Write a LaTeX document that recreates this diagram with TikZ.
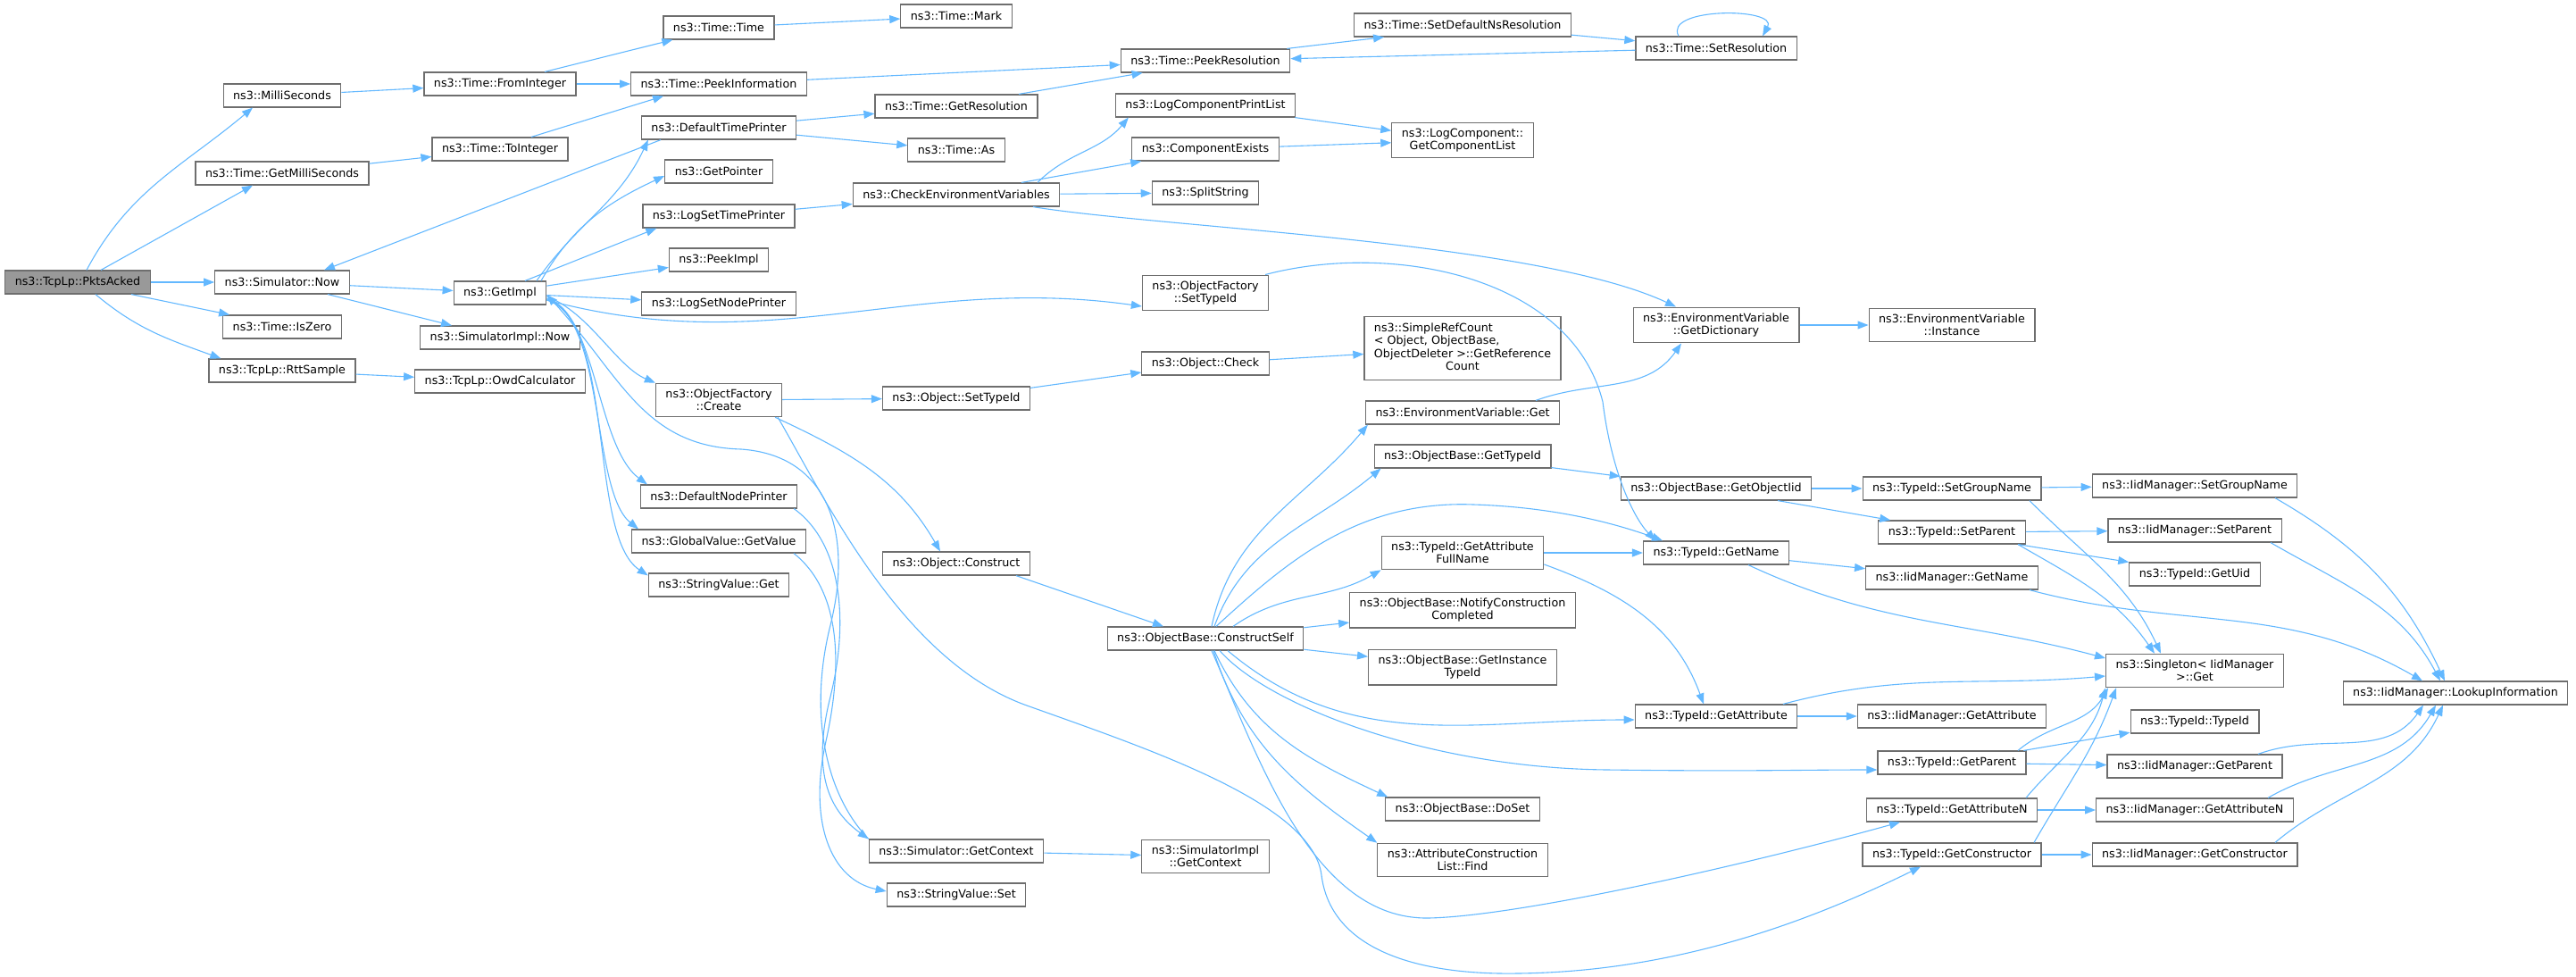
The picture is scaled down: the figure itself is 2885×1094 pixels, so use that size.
\documentclass[tikz,border=0pt]{standalone}
\usepackage{fontspec}
\setmainfont{DejaVu Sans}
\usepackage{tikz}
\usetikzlibrary{arrows.meta,calc}
\definecolor{myblue}{RGB}{99,184,255}
\definecolor{mygray}{RGB}{110,110,110}
\definecolor{myfill}{RGB}{153,153,153}
\tikzstyle{fn}=[draw=mygray,fill=white,line width=1.2pt,inner xsep=11pt,inner ysep=6.5pt,minimum height=26pt,align=center,font=\fontsize{12.7}{14.5}\selectfont]
\tikzstyle{root}=[fn,fill=myfill]
\tikzstyle{call}=[draw=myblue,line width=1.1pt,-{Triangle[length=12pt,width=9pt]}]

\begin{document}
\begin{tikzpicture}[x=1pt,y=1pt]
\useasboundingbox (0,0) rectangle (2885,-1094);
\node[root] (pa) at (87,-316) {ns3::TcpLp::PktsAcked};
\node[fn] (ms) at (316,-107) {ns3::MilliSeconds};
\node[fn] (gms) at (316,-194) {ns3::Time::GetMilliSeconds};
\node[fn] (now) at (316,-316) {ns3::Simulator::Now};
\node[fn] (iz) at (316,-366) {ns3::Time::IsZero};
\node[fn] (rtt) at (316,-415) {ns3::TcpLp::RttSample};
\node[fn] (fi) at (560,-94) {ns3::Time::FromInteger};
\node[fn] (ti) at (560,-167) {ns3::Time::ToInteger};
\node[fn] (gi) at (560,-328) {ns3::GetImpl};
\node[fn] (sin) at (560,-378) {ns3::SimulatorImpl::Now};
\node[fn] (owd) at (560,-427) {ns3::TcpLp::OwdCalculator};
\node[fn] (tt) at (805,-31) {ns3::Time::Time};
\node[fn] (pi) at (805,-94) {ns3::Time::PeekInformation};
\node[fn] (dtp) at (805,-143) {ns3::DefaultTimePrinter};
\node[fn] (gp) at (805,-192) {ns3::GetPointer};
\node[fn] (lstp) at (805,-242) {ns3::LogSetTimePrinter};
\node[fn] (pim) at (805,-291) {ns3::PeekImpl};
\node[fn] (lsnp) at (805,-340) {ns3::LogSetNodePrinter};
\node[fn] (ofc) at (805,-448) {ns3::ObjectFactory\\::Create};
\node[fn] (dnp) at (805,-556) {ns3::DefaultNodePrinter};
\node[fn] (gvv) at (805,-606) {ns3::GlobalValue::GetValue};
\node[fn] (svg) at (805,-655) {ns3::StringValue::Get};
\node[fn] (tm) at (1071,-18) {ns3::Time::Mark};
\node[fn] (gr) at (1071,-119) {ns3::Time::GetResolution};
\node[fn] (tas) at (1071,-168) {ns3::Time::As};
\node[fn] (cev) at (1071,-218) {ns3::CheckEnvironmentVariables};
\node[fn] (ost) at (1071,-446) {ns3::Object::SetTypeId};
\node[fn] (oc) at (1071,-631) {ns3::Object::Construct};
\node[fn] (sgc) at (1071,-953) {ns3::Simulator::GetContext};
\node[fn] (svs) at (1071,-1002) {ns3::StringValue::Set};
\node[fn] (pr) at (1350,-68) {ns3::Time::PeekResolution};
\node[fn] (lcpl) at (1350,-118) {ns3::LogComponentPrintList};
\node[fn] (ce) at (1350,-167) {ns3::ComponentExists};
\node[fn] (ss) at (1350,-216) {ns3::SplitString};
\node[fn] (ofst) at (1350,-328) {ns3::ObjectFactory\\::SetTypeId};
\node[fn] (ock) at (1350,-407) {ns3::Object::Check};
\node[fn] (cs) at (1350,-715) {ns3::ObjectBase::ConstructSelf};
\node[fn] (sigc) at (1350,-959) {ns3::SimulatorImpl\\::GetContext};
\node[fn] (sdr) at (1638,-28) {ns3::Time::SetDefaultNsResolution};
\node[fn] (gcl) at (1638,-157) {ns3::LogComponent::\\GetComponentList};
\node[fn] (src) at (1638,-390) {\begin{tabular}{@{}l@{}}ns3::SimpleRefCount\\< Object, ObjectBase,\\ObjectDeleter >::GetReference\\\multicolumn{1}{@{}c@{}}{Count}\end{tabular}};
\node[fn] (evg) at (1638,-462) {ns3::EnvironmentVariable::Get};
\node[fn] (obgt) at (1638,-511) {ns3::ObjectBase::GetTypeId};
\node[fn] (gafn) at (1638,-619) {ns3::TypeId::GetAttribute\\FullName};
\node[fn] (ncc) at (1638,-683) {ns3::ObjectBase::NotifyConstruction\\Completed};
\node[fn] (git) at (1638,-747) {ns3::ObjectBase::GetInstance\\TypeId};
\node[fn] (ds) at (1638,-906) {ns3::ObjectBase::DoSet};
\node[fn] (acl) at (1638,-963) {ns3::AttributeConstruction\\List::Find};
\node[fn] (sr) at (1922,-54) {ns3::Time::SetResolution};
\node[fn] (gd) at (1922,-364) {ns3::EnvironmentVariable\\::GetDictionary};
\node[fn] (goi) at (1922,-547) {ns3::ObjectBase::GetObjectIid};
\node[fn] (gn) at (1922,-619) {ns3::TypeId::GetName};
\node[fn] (ga) at (1922,-802) {ns3::TypeId::GetAttribute};
\node[fn] (ei) at (2186,-364) {ns3::EnvironmentVariable\\::Instance};
\node[fn] (sgn) at (2186,-547) {ns3::TypeId::SetGroupName};
\node[fn] (sp) at (2186,-596) {ns3::TypeId::SetParent};
\node[fn] (ign) at (2186,-647) {ns3::IidManager::GetName};
\node[fn] (iga) at (2186,-802) {ns3::IidManager::GetAttribute};
\node[fn] (gpa) at (2186,-854) {ns3::TypeId::GetParent};
\node[fn] (gan) at (2186,-907) {ns3::TypeId::GetAttributeN};
\node[fn] (gc) at (2186,-957) {ns3::TypeId::GetConstructor};
\node[fn] (isgn) at (2458,-544) {ns3::IidManager::SetGroupName};
\node[fn] (isp) at (2458,-594) {ns3::IidManager::SetParent};
\node[fn] (gu) at (2458,-643) {ns3::TypeId::GetUid};
\node[fn] (sg) at (2458,-751) {ns3::Singleton< IidManager\\>::Get};
\node[fn] (tid) at (2458,-808) {ns3::TypeId::TypeId};
\node[fn] (igp) at (2458,-858) {ns3::IidManager::GetParent};
\node[fn] (igan) at (2458,-907) {ns3::IidManager::GetAttributeN};
\node[fn] (igc) at (2458,-957) {ns3::IidManager::GetConstructor};
\node[fn] (li) at (2750,-776) {ns3::IidManager::LookupInformation};

\draw[call] ([xshift=10pt]pa.north) to[out=62,in=-140] ([xshift=-33pt]ms.south);
\draw[call] ([xshift=26pt]pa.north) -- ([xshift=-33pt]gms.south);
\draw[call] (pa) -- (now);
\draw[call] ([xshift=60pt]pa.south) -- ([xshift=8pt]iz.north west);
\draw[call] ([xshift=20pt]pa.south) to[out=-40,in=160] ([xshift=14pt]rtt.north west);
\draw[call] (ms) -- (fi);
\draw[call] (gms) -- (ti);
\draw[call] ([xshift=50pt]fi.north) -- ([xshift=11pt]tt.south west);
\draw[call] (fi) -- (pi);
\draw[call] ([xshift=35pt]ti.north) -- ([xshift=37pt]pi.south west);
\draw[call] (now) -- (gi);
\draw[call] ([xshift=51pt]now.south) -- ([xshift=-54pt]sin.north);
\draw[call] ([xshift=-65pt]dtp.south) -- ([xshift=47pt]now.north);
\draw[call] (rtt) -- (owd);
\draw[call] ([xshift=41pt]gi.north) to[out=55,in=-115] ([xshift=8pt]dtp.south west);
\draw[call] ([xshift=46pt]gi.north) to[out=60,in=-155] ([yshift=-5pt]gp.west);
\draw[call] ([xshift=28pt]gi.north) -- ([xshift=16pt]lstp.south west);
\draw[call] (gi) -- (pim);
\draw[call] (gi) -- (lsnp);
\draw[call] ([yshift=-8pt]gi.east) to[out=-15,in=172] ([yshift=-15pt]ofst.west);
\draw[call] ([yshift=-4pt]gi.east) .. controls (660,-350) and (690,-410) .. (ofc.north west);
\draw[call] ([yshift=-6pt]gi.east) .. controls (668,-350) and (668,-500) .. ([xshift=8pt]dnp.north west);
\draw[call] ([yshift=-7pt]gi.east) .. controls (678,-355) and (662,-550) .. ([xshift=8pt]gvv.north west);
\draw[call] ([yshift=-8pt]gi.east) .. controls (690,-360) and (658,-600) .. ([yshift=-3pt]svg.north west);
\draw[call] (sgc.north west) .. controls (925,-890) and (905,-800) .. (930,-700) .. controls (955,-600) and (930,-510) .. (830,-503) .. controls (720,-500) and (695,-420) .. ([yshift=-2pt]gi.east);
\draw[call] ([xshift=-4pt]dnp.south east) .. controls (945,-610) and (950,-700) .. (930,-780) .. controls (910,-860) and (925,-905) .. (sgc.north west);
\draw[call] ([xshift=-14pt]gvv.south east) .. controls (940,-660) and (945,-740) .. (925,-830) .. controls (905,-920) and (930,-985) .. ([yshift=4pt]svs.west);
\draw[call] (sgc) -- (sigc);
\draw[call] (ofc) -- (ost);
\draw[call] ([xshift=-8pt]ofc.south east) to[out=-25,in=120] ([xshift=-18pt]oc.north);
\draw[call] ([xshift=-5pt]ofc.south east) .. controls (925,-560) and (1010,-740) .. (1150,-790) .. controls (1290,-840) and (1470,-900) .. (1480,-980) .. controls (1490,-1060) and (1580,-1092) .. (1700,-1090) .. controls (1880,-1088) and (2030,-1030) .. ([xshift=-35pt]gc.south);
\draw[call] (ost) -- (ock);
\draw[call] (ock) -- (src);
\draw[call] ([xshift=67pt]oc.south) -- ([xshift=-47pt]cs.north);
\draw[call] (dtp) -- (gr);
\draw[call] (dtp) -- (tas);
\draw[call] (lstp) -- (cev);
\draw[call] ([xshift=70pt]gr.north) -- ([xshift=25pt]pr.south west);
\draw[call] (pi) -- (pr);
\draw[call] (tt) -- (tm);
\draw[call] ([xshift=-4pt]pr.north east) -- ([xshift=34pt]sdr.south west);
\draw[call] (sdr) -- (sr);
\draw[call] (sr) -- (pr);
\draw[call] ([xshift=-42pt]sr.north) .. controls (1862,-8) and (1992,-8) .. ([xshift=52pt]sr.north);
\draw[call] ([xshift=91pt]cev.north) to[out=45,in=-130] ([xshift=15pt]lcpl.south west);
\draw[call] ([xshift=73pt]cev.north) -- ([xshift=11pt]ce.south west);
\draw[call] (cev) -- (ss);
\draw[call] ([xshift=86pt]cev.south) .. controls (1300,-255) and (1720,-270) .. ([xshift=-45pt]gd.north);
\draw[call] (lcpl) -- (gcl);
\draw[call] (ce) -- (gcl);
\draw[call] (gd) -- (ei);
\draw[call] ([xshift=82pt]evg.north) to[out=20,in=-125] ([xshift=-39pt]gd.south);
\draw[call] ([xshift=-4pt]ofst.north east) .. controls (1560,-270) and (1760,-310) .. (1795,-450) .. controls (1805,-530) and (1830,-580) .. ([xshift=-68pt]gn.north);
\draw[call] ([xshift=7pt]cs.north) to[out=78,in=-130] ([xshift=3pt]evg.south west);
\draw[call] ([xshift=10pt]cs.north) to[out=70,in=-140] ([xshift=8pt]obgt.south west);
\draw[call] ([xshift=12pt]cs.north) .. controls (1440,-630) and (1520,-560) .. (1650,-565) .. controls (1750,-568) and (1820,-590) .. ([xshift=-60pt]gn.north);
\draw[call] ([xshift=31pt]cs.north) to[out=35,in=-150] (gafn.south west);
\draw[call] (cs) -- (ncc);
\draw[call] (cs) -- (git);
\draw[call] ([xshift=25pt]cs.south) to[out=-40,in=180] ([yshift=-4pt]ga.west);
\draw[call] ([xshift=16pt]cs.south) .. controls (1420,-790) and (1600,-860) .. (1800,-862) .. controls (1950,-864) and (2020,-862) .. ([yshift=-8pt]gpa.west);
\draw[call] ([xshift=10pt]cs.south) to[out=-65,in=155] ([xshift=3pt]ds.north west);
\draw[call] ([xshift=9pt]cs.south) to[out=-72,in=145] (acl.north west);
\draw[call] ([xshift=7pt]cs.south) .. controls (1410,-850) and (1470,-1030) .. (1600,-1028) .. controls (1700,-1026) and (1950,-970) .. ([xshift=-58pt]gan.south);
\draw[call] (obgt) -- (goi);
\draw[call] (gafn) -- (gn);
\draw[call] ([yshift=-13pt]gafn.east) to[out=-20,in=110] ([xshift=-14pt]ga.north);
\draw[call] (goi) -- (sgn);
\draw[call] ([xshift=69pt]goi.south) -- ([xshift=14pt]sp.north west);
\draw[call] (gn) -- (ign);
\draw[call] ([xshift=36pt]gn.south) to[out=-25,in=165] ([yshift=14pt]sg.west);
\draw[call] (sgn) -- (isgn);
\draw[call] ([xshift=87pt]sgn.south) to[out=-45,in=115] ([xshift=-38pt]sg.north);
\draw[call] (sp) -- (isp);
\draw[call] ([xshift=74pt]sp.south) -- (gu.north west);
\draw[call] ([xshift=74pt]sp.south) to[out=-30,in=125] ([xshift=-45pt]sg.north);
\draw[call] ([xshift=87pt]ign.south) to[out=-15,in=150] ([xshift=-37pt]li.north);
\draw[call] ([xshift=90pt]isgn.south) to[out=-30,in=115] ([xshift=-12pt]li.north);
\draw[call] ([xshift=85pt]isp.south) to[out=-30,in=118] ([xshift=-17pt]li.north);
\draw[call] (ga) -- (iga);
\draw[call] ([xshift=75pt]ga.north) to[out=15,in=-175] ([yshift=-6pt]sg.west);
\draw[call] (gpa) -- (tid);
\draw[call] (gpa) -- (igp);
\draw[call] ([xshift=74pt]gpa.north) to[out=40,in=-120] ([xshift=-97pt]sg.south);
\draw[call] (gan) -- (igan);
\draw[call] ([xshift=83pt]gan.north) to[out=50,in=-105] ([xshift=-100pt]sg.south);
\draw[call] (gc) -- (igc);
\draw[call] ([xshift=92pt]gc.north) to[out=60,in=-110] ([xshift=-88pt]sg.south);
\draw[call] ([xshift=71pt]igp.north) to[out=20,in=-125] ([xshift=-36pt]li.south);
\draw[call] ([xshift=82pt]igan.north) to[out=30,in=-120] ([xshift=-22pt]li.south);
\draw[call] ([xshift=90pt]igc.north) to[out=40,in=-115] ([xshift=-14pt]li.south);
\end{tikzpicture}
\end{document}
